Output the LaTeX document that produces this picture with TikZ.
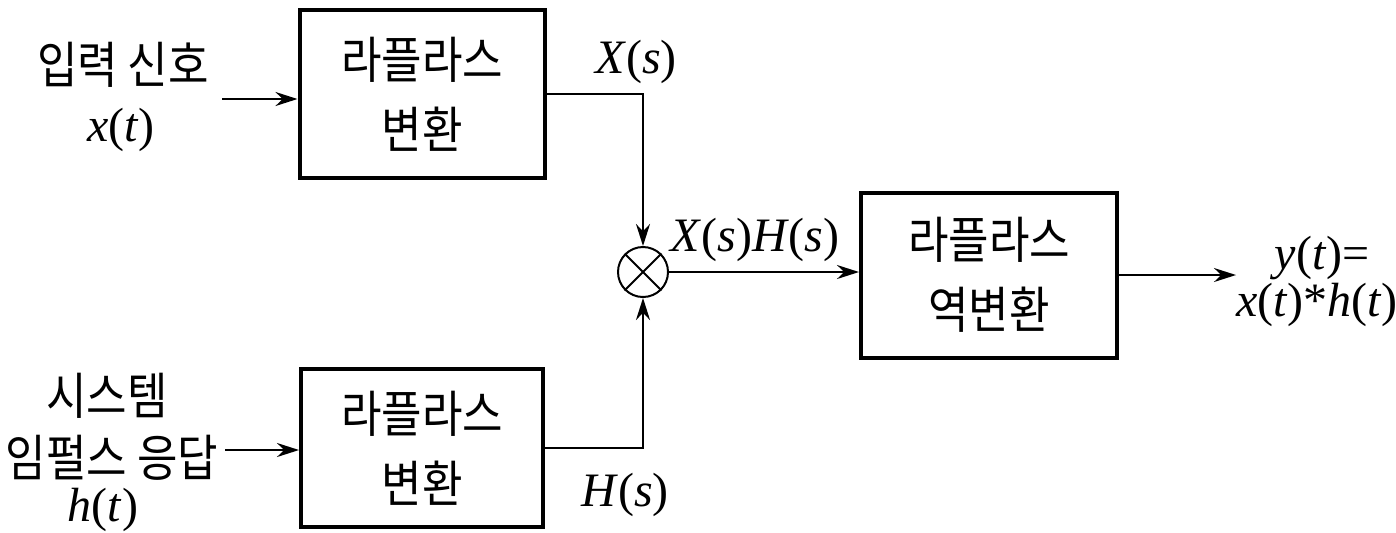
\documentclass[tikz,border=0pt]{standalone}
\usepackage{fontspec}
\newfontfamily\kr[FakeStretch=0.88]{Noto Sans CJK KR}
\newfontfamily\tms{Liberation Serif}
\newcommand{\vi}[1]{\textit{#1}}
\usetikzlibrary{arrows.meta}
\begin{document}
\begin{tikzpicture}[x=0.5pt,y=-0.5pt,
  blk/.style={draw,line width=2pt,align=center,inner sep=0pt,
    font=\kr\fontsize{25}{35}\selectfont},
  lbl/.style={inner sep=0pt,font=\kr\fontsize{25}{26}\selectfont},
  mth/.style={inner sep=0pt,font=\tms\fontsize{24}{25}\selectfont},
  conn/.style={line width=1pt},
  arr/.style={line width=1pt,-{Stealth[length=11pt,width=7pt]}}]
\useasboundingbox (0,0) rectangle (1396,532);
% blocks
\node[blk,minimum width=122.5pt,minimum height=84pt] (b1) at (422,94) {라플라스\\변환};
\node[blk,minimum width=121pt,minimum height=79pt] (b2) at (422,448) {라플라스\\변환};
\node[blk,minimum width=128pt,minimum height=82.5pt] (b3) at (989,275) {라플라스\\역변환};
\node[draw,circle,line width=1pt,minimum size=25pt,inner sep=0pt] (mix) at (643,272) {};
\draw[line width=1pt] (mix.north west) -- (mix.south east) (mix.north east) -- (mix.south west);
% labels
\node[lbl] (t1) at (123,65) {입력 신호};
\node[mth] (t1m) at (121,130) {\vi{x}(\vi{t})};
\node[lbl] (t2a) at (107,396) {시스템};
\node[lbl] (t2b) at (112,458) {임펄스 응답};
\node[mth] (t2m) at (103,510) {\vi{h}(\vi{t})};
\node[mth] (xs) at (636,62) {\vi{X}(\vi{s})};
\node[mth] (hs) at (625,495) {\vi{H}(\vi{s})};
\node[mth] (xh) at (755,240) {\vi{X}(\vi{s})\vi{H}(\vi{s})};
\node[mth] (y1) at (1322,258) {\vi{y}(\vi{t})=};
\node[mth] (y2) at (1317,305) {\vi{x}(\vi{t})*\vi{h}(\vi{t})};
% connectors
\coordinate (in1) at (222,99);
\coordinate (in2) at (225,450);
\coordinate (out) at (1236,275);
\draw[arr] (in1) -- (in1 -| b1.west);
\draw[arr] (in2) -- (in2 -| b2.west);
\draw[arr] (b1.east) -| (mix.north);
\draw[arr] (b2.east) -| (mix.south);
\draw[arr] (mix.east) -- (mix.east -| b3.west);
\draw[arr] (b3.east) -- (out);
\end{tikzpicture}
\end{document}
